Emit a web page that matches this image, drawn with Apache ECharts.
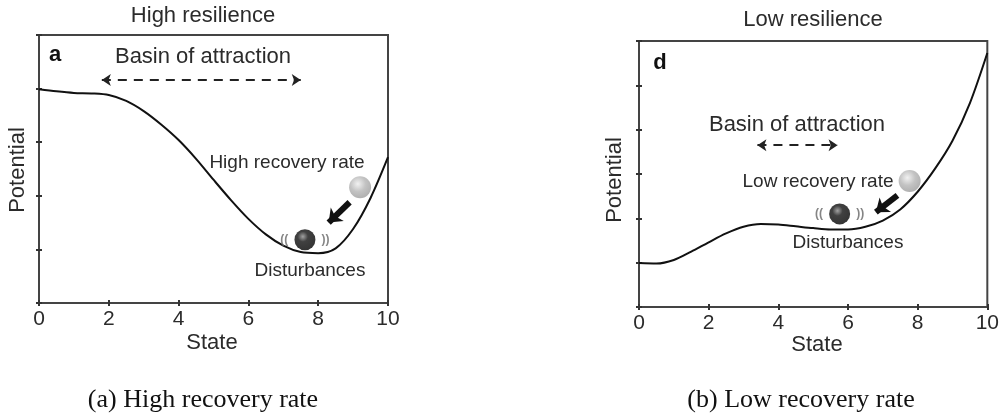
<!DOCTYPE html>
<html>
<head>
<meta charset="utf-8">
<title>Resilience</title>
<script src="https://cdn.jsdelivr.net/npm/echarts@6/dist/echarts.min.js"></script>
<style>
    html, body { margin: 0; padding: 0; background: #ffffff; }
    #chart { width: 1002px; height: 419px; }
</style>
</head>
<body>
<div id="chart"></div>
<script>
    // state values (x) shared by both curves
    var stateX = [0, 0.5, 1, 1.5, 2, 2.5, 3, 3.5, 4, 4.5, 5, 5.5, 6, 6.5, 7, 7.5, 8, 8.5, 9, 9.5, 10];
    // potential, high resilience panel (a)
    var highPotential = [3.99, 3.95, 3.92, 3.91, 3.88, 3.77, 3.58, 3.33, 3.04, 2.69, 2.3, 1.92, 1.57, 1.28, 1.07, 0.95, 0.93, 1.02, 1.38, 1.96, 2.72];
    // potential, low resilience panel (d)
    var lowPotential = [0.99, 0.98, 1.06, 1.25, 1.46, 1.66, 1.81, 1.87, 1.86, 1.82, 1.78, 1.75, 1.75, 1.81, 1.95, 2.2, 2.6, 3.12, 3.75, 4.6, 5.73];
    var xTicks = ['0', '2', '4', '6', '8', '10'];

    // annotation points [state, potential]
    var highBasin = [[1.8, 4.16], [7.5, 4.16]];
    var lowBasin = [[3.4, 3.65], [5.7, 3.65]];
    var highBallGray = [9.2, 2.16];
    var highBallBlack = [7.62, 1.18];
    var highPush = [[8.9, 1.88], [8.3, 1.5]];
    var lowBallGray = [7.77, 2.84];
    var lowBallBlack = [5.76, 2.1];
    var lowPush = [[7.42, 2.52], [6.8, 2.14]];

    function pairs(xs, ys) {
        return xs.map(function (x, i) { return [x, ys[i]]; });
    }

    var textColor = '#2b2b2b';
    var sans = 'Liberation Sans, Arial, sans-serif';
    var serif = 'Liberation Serif, Times New Roman, serif';

    function xAxisFor(grid, pos) {
        return {
            gridIndex: grid, type: 'value', position: pos, min: 0, max: 10, interval: 2,
            axisLine: { show: false },
            axisTick: { show: true, inside: true, length: 3, lineStyle: { color: '#333', width: 2 } },
            axisLabel: {
                show: pos === 'bottom', color: textColor, fontSize: 21, fontFamily: sans, margin: 6,
                formatter: function (v) { return xTicks[v / 2]; }
            },
            splitLine: { show: false }
        };
    }
    function yAxisFor(grid, pos, max) {
        return {
            gridIndex: grid, type: 'value', position: pos, min: 0, max: max, interval: 1,
            axisLine: { show: false },
            axisTick: { show: true, inside: true, length: 3, lineStyle: { color: '#333', width: 2 } },
            axisLabel: { show: false },
            splitLine: { show: false }
        };
    }

    function ball(data, xi, yi, dark) {
        return {
            type: 'scatter', xAxisIndex: xi, yAxisIndex: yi, silent: true, z: 5,
            symbolSize: dark ? 21 : 22,
            data: [data],
            itemStyle: {
                color: {
                    type: 'radial', x: 0.4, y: 0.35, r: 0.7,
                    colorStops: dark
                        ? [{ offset: 0, color: '#8a8a8a' }, { offset: 0.35, color: '#111' }, { offset: 1, color: '#000' }]
                        : [{ offset: 0, color: '#eeeeee' }, { offset: 0.5, color: '#b4b4b4' }, { offset: 1, color: '#9a9a9a' }]
                }
            },
            label: dark ? {
                show: true, position: 'inside', formatter: '((          ))', color: '#666',
                fontSize: 12, fontWeight: 'bold', fontFamily: sans
            } : { show: false }
        };
    }

    function curve(ys, xi, yi, basin, push) {
        return {
            type: 'line', xAxisIndex: xi, yAxisIndex: yi, smooth: 0.3,
            showSymbol: false, silent: true,
            data: pairs(stateX, ys),
            lineStyle: { color: '#111', width: 2 },
            markLine: {
                silent: true, animation: false,
                label: { show: false },
                data: [
                    [
                        { coord: basin[0], symbol: 'arrow', symbolSize: 9,
                          lineStyle: { type: [9, 7], color: '#222', width: 1.8 } },
                        { coord: basin[1], symbol: 'arrow', symbolSize: 9 }
                    ],
                    [
                        { coord: push[0], symbol: 'none',
                          lineStyle: { type: 'solid', color: '#111', width: 6 } },
                        { coord: push[1], symbol: 'arrow', symbolSize: [14, 12] }
                    ]
                ]
            }
        };
    }

    function txt(x, y, s, size, extra) {
        var style = { text: s, x: x, y: y, fill: textColor, font: size + 'px ' + sans, align: 'center', verticalAlign: 'middle' };
        for (var k in extra) style[k] = extra[k];
        return { type: 'text', style: style, silent: true };
    }

    var options = {
        animation: false,
        grid: [
            { left: 39, top: 35, width: 349, height: 268, show: true, borderColor: '#444', borderWidth: 2, backgroundColor: '#fff' },
            { left: 639, top: 41, width: 349, height: 266, show: true, borderColor: '#444', borderWidth: 2, backgroundColor: '#fff' }
        ],
        xAxis: [xAxisFor(0, 'bottom'), xAxisFor(0, 'top'), xAxisFor(1, 'bottom'), xAxisFor(1, 'top')],
        yAxis: [yAxisFor(0, 'left', 5), yAxisFor(0, 'right', 5), yAxisFor(1, 'left', 6), yAxisFor(1, 'right', 6)],
        series: [
            curve(highPotential, 0, 0, highBasin, highPush),
            curve(lowPotential, 2, 2, lowBasin, lowPush),
            ball(highBallGray, 0, 0, false),
            ball(highBallBlack, 0, 0, true),
            ball(lowBallGray, 2, 2, false),
            ball(lowBallBlack, 2, 2, true)
        ],
        graphic: [
            txt(203, 16, 'High resilience', 22),
            txt(55, 55, 'a', 22, { font: 'bold 22px ' + sans, fill: '#111' }),
            txt(203, 57, 'Basin of attraction', 22),
            txt(287, 163, 'High recovery rate', 19),
            txt(310, 271, 'Disturbances', 19),
            txt(212, 343, 'State', 22),
            { type: 'text', x: 18, y: 170, rotation: Math.PI / 2, silent: true,
              style: { text: 'Potential', fill: textColor, font: '22px ' + sans, align: 'center', verticalAlign: 'middle' } },
            txt(203, 400, '(a) High recovery rate', 26, { font: '26px ' + serif, fill: '#111' }),

            txt(813, 20, 'Low resilience', 22),
            txt(660, 63, 'd', 22, { font: 'bold 22px ' + sans, fill: '#111' }),
            txt(797, 125, 'Basin of attraction', 22),
            txt(818, 182, 'Low recovery rate', 19),
            txt(848, 243, 'Disturbances', 19),
            txt(817, 345, 'State', 22),
            { type: 'text', x: 615, y: 180, rotation: Math.PI / 2, silent: true,
              style: { text: 'Potential', fill: textColor, font: '22px ' + sans, align: 'center', verticalAlign: 'middle' } },
            txt(801, 400, '(b) Low recovery rate', 26, { font: '26px ' + serif, fill: '#111' })
        ]
    };

    var chart = echarts.init(document.getElementById('chart'));
    chart.setOption(options);
</script>
</body>
</html>
